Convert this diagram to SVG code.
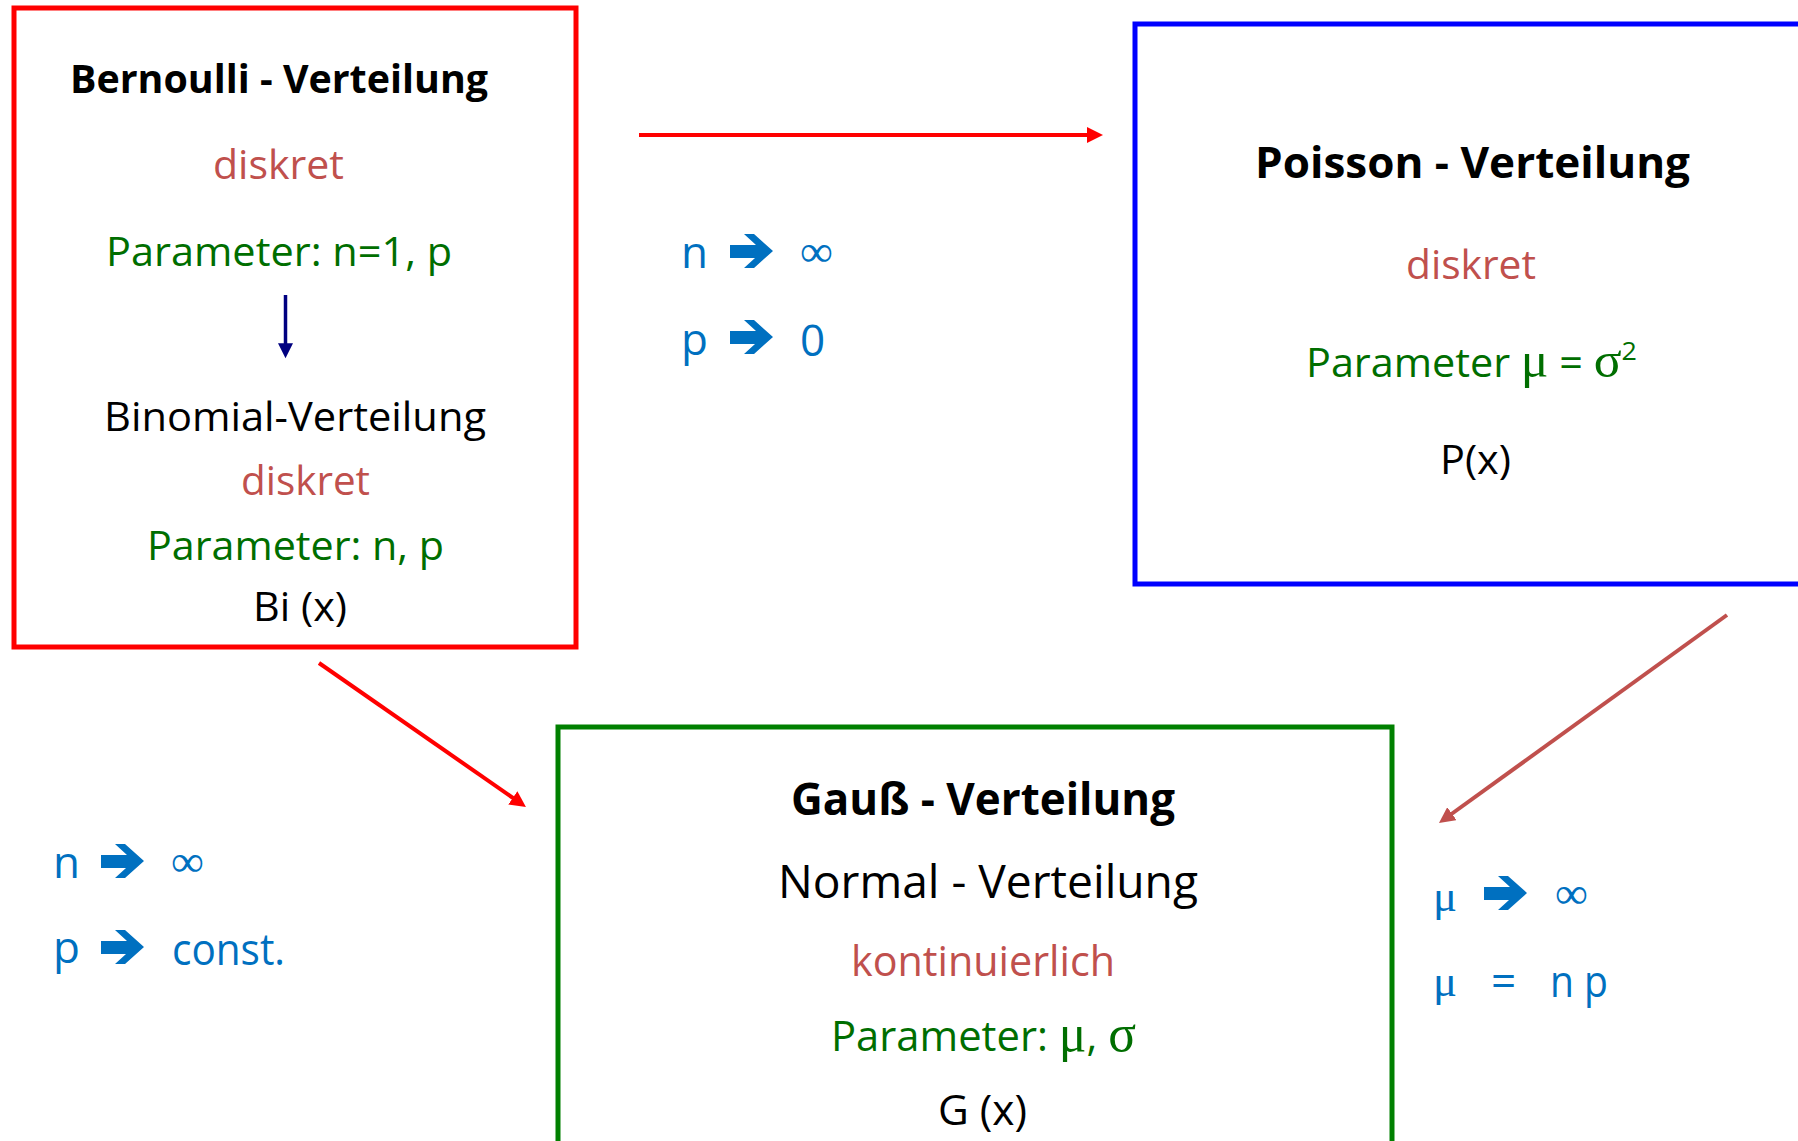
<svg xmlns="http://www.w3.org/2000/svg" width="1798" height="1141" viewBox="0 0 1798 1141">
<defs>
<style>
.t{font-family:"Open Sans","Liberation Sans",sans-serif;}
.b{font-weight:bold;}
.blk{fill:#000000;}
.red{fill:#C0504D;}
.grn{fill:#006E00;}
.blu{fill:#0070C0;font-size:44px;font-family:"Open Sans","Liberation Sans",sans-serif;}
.g{font-family:"Liberation Serif","DejaVu Serif",serif;}
.box{fill:none;stroke-width:5;}
.ln{fill:none;stroke-width:4;}
</style>
<marker id="hRed" markerUnits="userSpaceOnUse" viewBox="0 0 16 16" markerWidth="16" markerHeight="16" refX="4" refY="8" orient="auto"><path d="M0,0 L16,8 L0,16 z" fill="#FF0000"/></marker>
<marker id="hBrown" markerUnits="userSpaceOnUse" viewBox="0 0 16 16" markerWidth="16" markerHeight="16" refX="4" refY="8" orient="auto"><path d="M0,0 L16,8 L0,16 z" fill="#C0504D"/></marker>
<marker id="hNavy" markerUnits="userSpaceOnUse" viewBox="0 0 16 16" markerWidth="16" markerHeight="15" refX="4" refY="8" orient="auto"><path d="M0,0 L16,8 L0,16 z" fill="#000080"/></marker>
<symbol id="fatArrow" viewBox="0 0 43 34"><polygon points="0,11 26,11 14,0 24,0 43,17 24,34 14,34 25,24 0,24" fill="#0070C0"/></symbol>
</defs>
<rect x="0" y="0" width="1798" height="1141" fill="#FFFFFF"/>

<g id="bernoulli">
<rect class="box" x="14" y="8" width="562" height="639" stroke="#FF0000"/>
<text class="t b blk" x="70" y="93" font-size="40" textLength="418" lengthAdjust="spacingAndGlyphs">Bernoulli - Verteilung</text>
<text class="t red" x="213" y="179" font-size="40" textLength="131" lengthAdjust="spacingAndGlyphs">diskret</text>
<text class="t grn" x="106" y="266" font-size="40" textLength="346" lengthAdjust="spacingAndGlyphs">Parameter: n=1, p</text>
<line x1="285.5" y1="295" x2="285.5" y2="347" stroke="#000080" stroke-width="3.5" marker-end="url(#hNavy)"/>
<text class="t blk" x="104" y="431" font-size="40" textLength="382" lengthAdjust="spacingAndGlyphs">Binomial-Verteilung</text>
<text class="t red" x="241" y="495" font-size="40" textLength="129" lengthAdjust="spacingAndGlyphs">diskret</text>
<text class="t grn" x="147" y="560" font-size="40" textLength="297" lengthAdjust="spacingAndGlyphs">Parameter: n, p</text>
<text class="t blk" x="253" y="621" font-size="40" textLength="94" lengthAdjust="spacingAndGlyphs">Bi (x)</text>
</g>

<g id="poisson">
<rect class="box" x="1135" y="24" width="700" height="560" stroke="#0000FF"/>
<text class="t b blk" x="1255" y="178" font-size="43" textLength="435" lengthAdjust="spacingAndGlyphs">Poisson - Verteilung</text>
<text class="t red" x="1406" y="279" font-size="40" textLength="130" lengthAdjust="spacingAndGlyphs">diskret</text>
<text class="t grn" x="1306" y="377" font-size="40" textLength="331" lengthAdjust="spacingAndGlyphs">Parameter <tspan class="g" font-size="50">μ</tspan> = <tspan class="g" font-size="50">σ</tspan><tspan font-size="26" dy="-17">2</tspan></text>
<text class="t blk" x="1440" y="474" font-size="40" textLength="71" lengthAdjust="spacingAndGlyphs">P(x)</text>
</g>

<g id="gauss">
<rect class="box" x="558" y="727" width="834" height="500" stroke="#008000"/>
<text class="t b blk" x="791" y="815" font-size="45" textLength="384" lengthAdjust="spacingAndGlyphs">Gauß - Verteilung</text>
<text class="t blk" x="778" y="898" font-size="45" textLength="420" lengthAdjust="spacingAndGlyphs">Normal - Verteilung</text>
<text class="t red" x="851" y="976" font-size="42" textLength="264" lengthAdjust="spacingAndGlyphs">kontinuierlich</text>
<text class="t grn" x="831" y="1051" font-size="42" textLength="305" lengthAdjust="spacingAndGlyphs">Parameter: <tspan class="g" font-size="52">μ</tspan>, <tspan class="g" font-size="52">σ</tspan></text>
<text class="t blk" x="938" y="1125" font-size="42" textLength="89" lengthAdjust="spacingAndGlyphs">G (x)</text>
</g>

<g id="connectors">
<line class="ln" x1="639" y1="135" x2="1091" y2="135" stroke="#FF0000" marker-end="url(#hRed)"/>
<line class="ln" x1="319" y1="663" x2="516.1" y2="800.1" stroke="#FF0000" marker-end="url(#hRed)"/>
<line class="ln" x1="1727" y1="615" x2="1448.7" y2="816" stroke="#C0504D" marker-end="url(#hBrown)"/>
</g>

<g id="label-binomial-poisson">
<text class="blu" x="681" y="268">n</text>
<use href="#fatArrow" x="730" y="234" width="43" height="34"/>
<text class="blu g" x="800" y="266" textLength="33" lengthAdjust="spacingAndGlyphs">∞</text>
<text class="blu" x="681" y="355">p</text>
<use href="#fatArrow" x="730" y="320" width="43" height="34"/>
<text class="blu" x="800" y="356">0</text>
</g>

<g id="label-binomial-gauss">
<text class="blu" x="53" y="878">n</text>
<use href="#fatArrow" x="101" y="844" width="43" height="34"/>
<text class="blu g" x="171" y="876" textLength="33" lengthAdjust="spacingAndGlyphs">∞</text>
<text class="blu" x="53" y="963">p</text>
<use href="#fatArrow" x="101" y="930" width="43" height="34"/>
<text class="blu" x="172" y="965" textLength="113" lengthAdjust="spacingAndGlyphs">const.</text>
</g>

<g id="label-poisson-gauss">
<text class="blu g" x="1433" y="911" font-size="54" textLength="24" lengthAdjust="spacingAndGlyphs">μ</text>
<use href="#fatArrow" x="1484" y="876" width="43" height="34"/>
<text class="blu g" x="1555" y="908" textLength="33" lengthAdjust="spacingAndGlyphs">∞</text>
<text class="blu g" x="1433" y="996" font-size="54" textLength="24" lengthAdjust="spacingAndGlyphs">μ</text>
<text class="blu" x="1491" y="997">=</text>
<text class="blu" x="1550" y="997" textLength="58" lengthAdjust="spacingAndGlyphs">n p</text>
</g>
</svg>
